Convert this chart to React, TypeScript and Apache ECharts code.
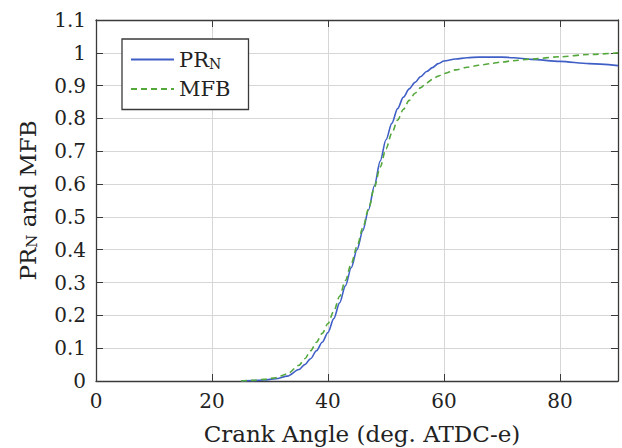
import React, { useEffect, useRef } from "react";
import * as echarts from "echarts";

const angles = [25, 27, 29, 31, 33, 35, 36, 37, 38, 39, 40, 41, 42, 43, 44, 45, 46, 47, 48, 49, 50, 51, 52, 53, 54, 55, 56, 57, 58, 59, 60, 62, 64, 66, 68, 70, 72, 75, 80, 85, 90];
const prN = [0, 0.001, 0.003, 0.007, 0.015, 0.035, 0.05, 0.068, 0.092, 0.118, 0.148, 0.19, 0.238, 0.29, 0.345, 0.4, 0.458, 0.522, 0.595, 0.67, 0.735, 0.785, 0.83, 0.865, 0.89, 0.91, 0.928, 0.943, 0.955, 0.967, 0.975, 0.981, 0.985, 0.987, 0.987, 0.987, 0.985, 0.98, 0.974, 0.967, 0.961];
const mfb = [0, 0.002, 0.005, 0.01, 0.022, 0.048, 0.068, 0.092, 0.118, 0.145, 0.175, 0.213, 0.258, 0.306, 0.357, 0.41, 0.466, 0.525, 0.59, 0.652, 0.708, 0.755, 0.795, 0.828, 0.855, 0.877, 0.894, 0.908, 0.919, 0.929, 0.937, 0.948, 0.956, 0.962, 0.967, 0.972, 0.976, 0.981, 0.988, 0.995, 1.0];

const FONT = "DejaVu Serif";
const FRAME = "#3a3a3a";
const GRID = "#d6d6d6";
const BLUE = "#3f5fc6";
const GREEN = "#55a83c";

export default function App() {
  const ref = useRef<HTMLDivElement>(null);
  useEffect(() => {
    if (!ref.current) return;
    const chart = echarts.init(ref.current, null, { renderer: "svg" });
    const tick = { show: true, inside: true, length: 7, lineStyle: { color: FRAME, width: 1 } };
    const line = { show: true, onZero: false, lineStyle: { color: FRAME, width: 1.3 } };
    chart.setOption({
      animation: false,
      backgroundColor: "#ffffff",
      grid: { left: 96, right: 4, top: 20, bottom: 67, containLabel: false, outerBoundsMode: "none" },
      legend: {
        orient: "vertical",
        left: 122,
        top: 39,
        itemWidth: 43,
        itemHeight: 10,
        itemGap: 8,
        padding: [10, 18, 10, 8],
        backgroundColor: "#ffffff",
        borderColor: FRAME,
        borderWidth: 1.3,
        borderRadius: 0,
        itemStyle: { opacity: 0, borderWidth: 0 },
        data: ["PR_N", "MFB"],
        formatter: (name: string) => (name === "PR_N" ? "{m|PR}{s|N}" : "{m|MFB}"),
        textStyle: {
          fontFamily: FONT,
          fontSize: 21,
          color: "#222",
          rich: {
            m: { fontFamily: FONT, fontSize: 21, lineHeight: 22, color: "#222" },
            s: { fontFamily: FONT, fontSize: 14, lineHeight: 10, verticalAlign: "bottom", color: "#222" },
          },
        },
      },
      xAxis: [
        {
          type: "value",
          min: 0,
          max: 90,
          interval: 20,
          position: "bottom",
          name: "Crank Angle (deg. ATDC-e)",
          nameLocation: "middle",
          nameGap: 41,
          nameTextStyle: { fontFamily: FONT, fontSize: 23, lineHeight: 24, color: "#222", padding: [0, 0, 0, 10] },
          axisLine: line,
          axisTick: tick,
          axisLabel: { fontFamily: FONT, fontSize: 20, color: "#222", margin: 10, showMaxLabel: false },
          splitLine: { show: true, lineStyle: { color: GRID, width: 1 } },
        },
        {
          type: "value",
          min: 0,
          max: 90,
          interval: 20,
          position: "top",
          axisLine: line,
          axisTick: tick,
          axisLabel: { show: false },
          splitLine: { show: false },
        },
      ],
      yAxis: [
        {
          type: "value",
          min: 0,
          max: 1.1,
          interval: 0.1,
          position: "left",
          name: "{m|PR}{s|N}{m| and MFB}",
          nameLocation: "middle",
          nameRotate: 90,
          nameGap: 57,
          nameTextStyle: {
            fontFamily: FONT,
            fontSize: 23,
            color: "#222",
            rich: {
              m: { fontFamily: FONT, fontSize: 23, lineHeight: 23, color: "#222" },
              s: { fontFamily: FONT, fontSize: 15, lineHeight: 10, verticalAlign: "bottom", color: "#222" },
            },
          },
          axisLine: line,
          axisTick: tick,
          axisLabel: {
            fontFamily: FONT,
            fontSize: 20,
            color: "#222",
            margin: 10,
            formatter: (v: number) => String(+v.toFixed(1)),
          },
          splitLine: { show: true, lineStyle: { color: GRID, width: 1 } },
        },
        {
          type: "value",
          min: 0,
          max: 1.1,
          interval: 0.1,
          position: "right",
          axisLine: line,
          axisTick: tick,
          axisLabel: { show: false },
          splitLine: { show: false },
        },
      ],
      series: [
        {
          name: "PR_N",
          type: "line",
          data: angles.map((a, i) => [a, prN[i]]),
          smooth: 0.3,
          smoothMonotone: "x",
          showSymbol: false,
          symbol: "none",
          lineStyle: { color: BLUE, width: 1.6, type: "solid" },
          itemStyle: { color: BLUE },
          z: 3,
        },
        {
          name: "MFB",
          type: "line",
          data: angles.map((a, i) => [a, mfb[i]]),
          smooth: 0.3,
          smoothMonotone: "x",
          showSymbol: false,
          symbol: "none",
          lineStyle: { color: GREEN, width: 1.6, type: [6, 4] },
          itemStyle: { color: GREEN },
          z: 4,
        },
      ],
    });
    return () => chart.dispose();
  }, []);
  return <div ref={ref} style={{ position: "fixed", left: 0, top: 0, width: 622, height: 448 }} />;
}
